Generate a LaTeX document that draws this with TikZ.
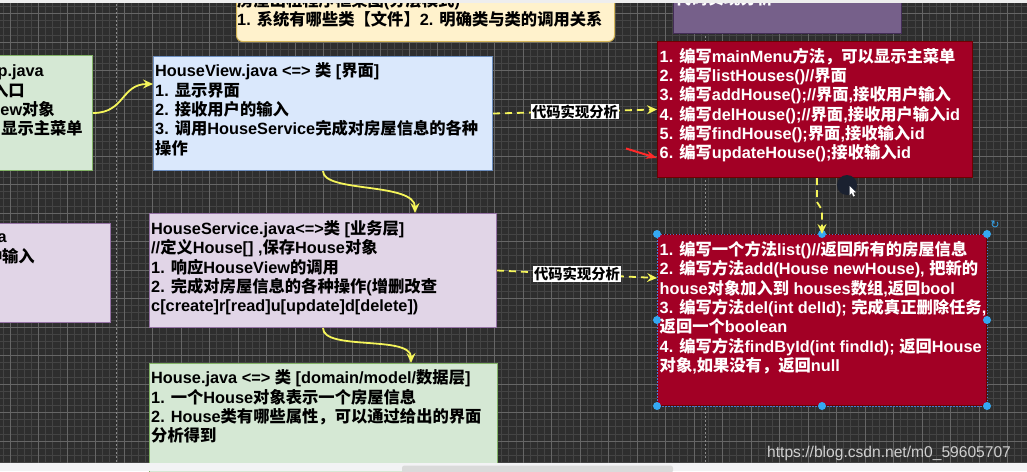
\documentclass[tikz,border=0pt]{standalone}
\usepackage{fontspec}
\setmainfont{Liberation Sans}
\newfontfamily\latinfont{Liberation Sans}
\newfontfamily\zhfont{Noto Sans CJK SC}
\newfontfamily\symfont{DejaVu Sans}
\usetikzlibrary{arrows.meta,calc}

% automatic switch to the CJK font for Chinese characters
\XeTeXinterchartokenstate=1
\chardef\zhclass=17
\newcount\zhc
\zhc="3000
\loop
  \XeTeXcharclass\zhc=\zhclass
  \ifnum\zhc<"9FFF
  \advance\zhc by 1
\repeat
\zhc="FF00
\loop
  \XeTeXcharclass\zhc=\zhclass
  \ifnum\zhc<"FFEF
  \advance\zhc by 1
\repeat
\XeTeXinterchartoks 0 \zhclass = {\zhfont}
\XeTeXinterchartoks 4095 \zhclass = {\zhfont}
\XeTeXinterchartoks \zhclass 0 = {\latinfont}
\XeTeXinterchartoks \zhclass 4095 = {\latinfont}

\newcommand\bodyfont{\fontsize{16.3}{19.3}\selectfont\bfseries}
\newcommand\mystrut{\rule{0pt}{15pt}}

\definecolor{bg}{HTML}{2E2E2E}
\definecolor{gridminor}{HTML}{444444}
\definecolor{gridmajor}{HTML}{666666}
\definecolor{pagebrk}{HTML}{8A8A8A}
\definecolor{ytopF}{HTML}{FFF2CC}
\definecolor{ytopD}{HTML}{D6B656}
\definecolor{ptopF}{HTML}{76608A}
\definecolor{ptopD}{HTML}{432D57}
\definecolor{greenF}{HTML}{D5E8D4}
\definecolor{greenD}{HTML}{82B366}
\definecolor{purpF}{HTML}{E1D5E7}
\definecolor{purpD}{HTML}{9673A6}
\definecolor{blueF}{HTML}{DAE8FC}
\definecolor{blueD}{HTML}{6C8EBF}
\definecolor{redF}{HTML}{A20025}
\definecolor{redD}{HTML}{6F0000}
\definecolor{yel}{HTML}{F5F55A}
\definecolor{annred}{HTML}{FF2A2A}
\definecolor{selblue}{HTML}{4A7BD0}
\definecolor{handleblue}{HTML}{35A8F2}
\definecolor{wmgray}{HTML}{CFCFCF}
\definecolor{cursorbg}{HTML}{1A2130}
\definecolor{topstrip}{HTML}{EEEEEE}
\definecolor{botstrip}{HTML}{F3F3F5}
\definecolor{scrollbar}{HTML}{DADADA}

\begin{document}
\begin{tikzpicture}[x=1pt,y=-1pt,
  box/.style={draw, line width=1pt, inner sep=0pt, anchor=north west},
  txt/.style={anchor=north west, inner sep=0pt, align=left, font=\bodyfont},
  sidetxt/.style={anchor=base east, inner sep=0pt, font=\bodyfont},
  lbl/.style={fill=white, text=black, inner sep=1pt, font=\fontsize{14.3}{16}\selectfont\bfseries},
  ycurve/.style={draw=yel, line width=1.8pt, -{Stealth[length=10pt,width=9pt,inset=3.5pt]}},
  ydash/.style={ycurve, dash pattern=on 7pt off 5pt},
  gminor/.style={draw=gridminor, line width=0.6pt},
  gmajor/.style={draw=gridmajor, line width=0.8pt},
  pagebreak/.style={draw=pagebrk, line width=0.7pt, dash pattern=on 2pt off 2pt},
  ]
\useasboundingbox (0,0) rectangle (1027,471);
\clip (0,0) rectangle (1027,471);

% background and grid
\fill[bg] (0,0) rectangle (1027,471);
\foreach \i in {0,...,145} { \draw[gminor] ({2.875+7.125*\i},0) -- ++(0,471); }
\foreach \i in {0,...,67} { \draw[gminor] (0,{-0.75+7.125*\i}) -- ++(1027,0); }
\foreach \i in {0,...,36} { \draw[gmajor] ({10+28.5*\i},0) -- ++(0,471); }
\foreach \i in {0,...,16} { \draw[gmajor] (0,{13.5+28.5*\i}) -- ++(1027,0); }
\draw[pagebreak] (116,0) -- (116,471);
\draw[pagebreak] (705,0) -- (705,471);

% boxes
\node[box, fill=ytopF, draw=ytopD, rounded corners=6pt, minimum width=378pt, minimum height=71pt] (ytop) at (236,-30) {};
\node[box, fill=ptopF, draw=ptopD, minimum width=228pt, minimum height=63pt] (ptop) at (673,-30) {};
\node[box, fill=greenF, draw=greenD, minimum width=132pt, minimum height=115pt] (app) at (-40,55) {};
\node[box, fill=purpF, draw=purpD, minimum width=150pt, minimum height=99pt] (util) at (-40,223) {};
\node[box, fill=blueF, draw=blueD, minimum width=339pt, minimum height=114pt] (hv) at (153,56) {};
\node[box, fill=purpF, draw=purpD, minimum width=347pt, minimum height=114pt] (hs) at (149,213) {};
\node[box, fill=greenF, draw=greenD, minimum width=348pt, minimum height=130pt] (house) at (149,363) {};
\node[box, fill=redF, draw=redD, minimum width=315pt, minimum height=136pt] (r1) at (657,41) {};
\node[box, fill=redF, draw=redD, minimum width=329pt, minimum height=171pt] (r2) at (657,234) {};

% selection of the second red box
\draw[draw=selblue, line width=0.8pt, dash pattern=on 1.5pt off 1.5pt] (r2.north west) rectangle (r2.south east);
\foreach \a in {north west,north,north east,west,east,south west,south,south east}
  { \fill[handleblue] (r2.\a) circle (4); }
\node[text=handleblue, font=\symfont\fontsize{11}{11}\selectfont, inner sep=0pt] (rot) at (995,225) {↻};

% connectors
\draw[ycurve] (app.east) .. controls ($(app.east)+(32,0)$) and ($(hv.north west)+(-32,28)$) .. ($(hv.north west)+(0,28)$);
\draw[ycurve] (hv.south) .. controls ($(hv.south)+(0,22)$) and ($(hs.north west)+(266,-31)$) .. ($(hs.north west)+(266,0)$);
\draw[ycurve] (hs.south) .. controls ($(hs.south)+(0,23)$) and ($(house.north west)+(262,-28)$) .. ($(house.north west)+(262,0)$);
\draw[ydash] (hv.east) -- node[lbl] (l1) {代码实现分析} (r1.west);
\draw[ydash] (hs.east) -- node[lbl] (l2) {代码实现分析} ($(r2.north west)+(0,44)$);
\draw[ydash] ($(r1.south)+(2,0)$) -- ++(0,24) -- ($(r2.north)+(0,-24)$) -- (r2.north);

% annotation arrow
\coordinate (rtail) at (626,148.5);
\draw[draw=annred, line width=2pt, -{Stealth[length=11pt,width=8pt]}] (rtail) -- ($(r1.south west)+(0,-20)$);

% texts
\node[txt] (ytopt) at (237,-9) {\mystrut 房屋出租程序框架图(分层模式)\\1. 系统有哪些类【文件】2. 明确类与类的调用关系};
\node[txt, text=white] (ptopt) at (675,-11) {\mystrut 代码实现分析};

\node[sidetxt] (app1) at (44,76.7) {HouseRentApp.java};
\node[sidetxt] (app2) at (25,96) {1. 程序入口};
\node[sidetxt] (app3) at (55,115.3) {2. 创建HouseView对象};
\node[sidetxt] (app4) at (83,134.3) {3. 调用该对象, 显示主菜单};

\node[sidetxt] (util1) at (7,242) {Utility.java};
\node[sidetxt] (util2) at (35,262) {完成获取用户的各种输入};

\node[txt] (hvt) at (155,61.7) {\mystrut HouseView.java <=> 类 [界面]\\1. 显示界面\\2. 接收用户的输入\\3. 调用HouseService完成对房屋信息的各种\\操作};
\node[txt] (hst) at (151,219.3) {\mystrut HouseService.java<=>类 [业务层]\\//定义House[] ,保存House对象\\1. 响应HouseView的调用\\2. 完成对房屋信息的各种操作(增删改查\\c[create]r[read]u[update]d[delete])};
\node[txt] (houset) at (151,368.7) {\mystrut House.java <=> 类 [domain/model/数据层]\\1. 一个House对象表示一个房屋信息\\2. House类有哪些属性，可以通过给出的界面\\分析得到};
\node[txt, text=white] (r1t) at (659.5,47) {\mystrut 1. 编写mainMenu方法，可以显示主菜单\\2. 编写listHouses()//界面\\3. 编写addHouse();//界面,接收用户输入\\4. 编写delHouse();//界面,接收用户输入id\\5. 编写findHouse();界面,接收输入id\\6. 编写updateHouse();接收输入id};
\node[txt, text=white] (r2t) at (659.5,240.3) {\mystrut 1. 编写一个方法list()//返回所有的房屋信息\\2. 编写方法add(House newHouse), 把新的\\house对象加入到 houses数组,返回bool\\3. 编写方法del(int delId); 完成真正删除任务,\\返回一个boolean\\4. 编写方法findById(int findId); 返回House\\对象,如果没有，返回null};

% mouse cursor
\fill[cursorbg] (847,185) circle (10);
\fill[white] (849.5,186) -- (849.5,195) -- (851.7,193) -- (853.3,196.5) -- (854.8,195.8) -- (853.2,192.3) -- (856,192.3) -- cycle;

% watermark
\node[anchor=base west, inner sep=0pt, font=\fontsize{15.6}{18}\selectfont, text=wmgray] (wm) at (767,457.5) {https://blog.csdn.net/m0\_59605707};

% window strips
\fill[topstrip] (0,0) rectangle (1027,3);
\fill[botstrip] (0,462.5) rectangle (1027,471);
\fill[scrollbar, rounded corners=2.5pt] (402,465.5) rectangle (673,473);
\end{tikzpicture}
\end{document}
